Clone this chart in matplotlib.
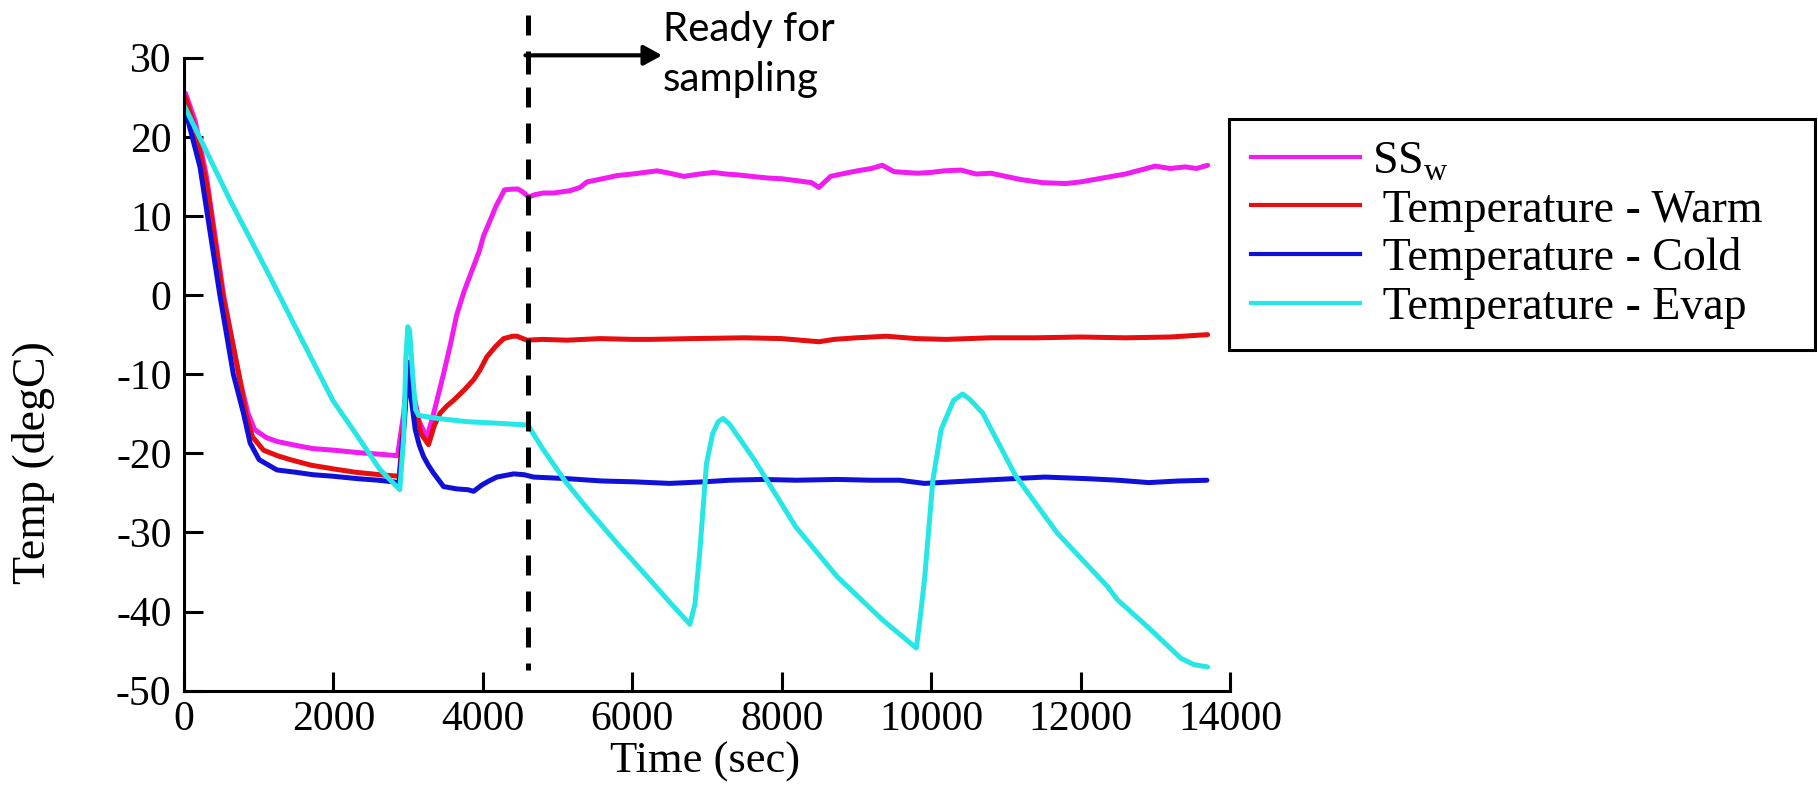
import matplotlib.pyplot as plt
from matplotlib.lines import Line2D

# values
t_ssw = [0, 20, 150, 300, 530, 730, 855, 945, 1100, 1244, 1500, 1722, 2000, 2320, 2600, 2858,
         2940, 3000, 3060, 3150, 3250, 3330, 3465, 3560, 3650, 3750, 3850, 3950, 4010, 4100,
         4174, 4290, 4400, 4470, 4540, 4613, 4700, 4814, 4950, 5171, 5300, 5394, 5600, 5795,
         6000, 6331, 6500, 6689, 6900, 7090, 7250, 7403, 7600, 7805, 8000, 8251, 8400, 8497,
         8654, 8800, 9011, 9200, 9346, 9503, 9650, 9816, 10000, 10173, 10400, 10600, 10800,
         11000, 11200, 11500, 11800, 12000, 12300, 12600, 12800, 13000, 13200, 13400, 13550, 13700]
ssw = [24.5, 25.5, 22, 15, 0, -10, -14.9, -17.0, -18.0, -18.5, -19.0, -19.4, -19.6, -19.9, -20.1, -20.3,
       -15, -8.5, -12, -16, -18.0, -15.4, -10.3, -6.5, -2.5, 0.5, 3.0, 5.5, 7.5, 9.5,
       11.2, 13.3, 13.4, 13.4, 13.0, 12.4, 12.7, 12.9, 12.9, 13.2, 13.6, 14.3, 14.7, 15.1,
       15.3, 15.7, 15.4, 15.0, 15.3, 15.5, 15.3, 15.2, 15.0, 14.8, 14.7, 14.4, 14.2, 13.6,
       15.0, 15.3, 15.7, 16.0, 16.4, 15.6, 15.5, 15.4, 15.5, 15.7, 15.8, 15.3, 15.4,
       15.0, 14.6, 14.2, 14.1, 14.3, 14.8, 15.3, 15.8, 16.3, 16.0, 16.2, 16.0, 16.4]

t_warm = [0, 20, 150, 304, 520, 735, 825, 915, 1064, 1250, 1423, 1700, 2021, 2300, 2619, 2880,
          2950, 3000, 3070, 3170, 3273, 3350, 3430, 3520, 3608, 3750, 3876, 3960, 4054, 4170,
          4278, 4400, 4456, 4590, 4800, 5126, 5572, 6000, 6242, 6800, 7500, 8000, 8500, 8700,
          9000, 9400, 9800, 10200, 10800, 11400, 12000, 12600, 13200, 13700]
warm = [24, 25, 21, 14, 0, -10, -14.9, -17.9, -19.6, -20.3, -20.8, -21.5, -22.0, -22.4, -22.7, -22.9,
        -15, -8.5, -13, -17.5, -18.9, -16.5, -14.9, -14.0, -13.3, -12.0, -10.7, -9.5, -7.8, -6.5,
        -5.5, -5.2, -5.2, -5.7, -5.6, -5.7, -5.5, -5.6, -5.6, -5.5, -5.4, -5.5, -5.9, -5.6,
        -5.4, -5.2, -5.5, -5.6, -5.4, -5.4, -5.3, -5.4, -5.3, -5.0]

t_cold = [0, 214, 480, 660, 795, 885, 1005, 1244, 1500, 1722, 2000, 2320, 2600, 2800, 2880,
          2950, 3000, 3040, 3095, 3150, 3206, 3270, 3340, 3474, 3653, 3800, 3876, 3987, 4080,
          4188, 4300, 4411, 4550, 4679, 4900, 5126, 5600, 6019, 6500, 6965, 7300, 7743, 8200,
          8743, 9200, 9577, 9911, 10300, 10689, 11100, 11523, 12079, 12500, 12913, 13300, 13691]
cold = [24, 16.2, 0, -10, -14.9, -18.7, -20.8, -22.1, -22.4, -22.7, -22.9, -23.2, -23.4, -23.6, -23.7,
        -16, -8.5, -13, -17, -19, -20.4, -21.5, -22.5, -24.2, -24.5, -24.6, -24.8, -24.0, -23.5,
        -23.0, -22.8, -22.6, -22.7, -23.0, -23.1, -23.2, -23.5, -23.6, -23.8, -23.6, -23.4, -23.3, -23.4,
        -23.3, -23.4, -23.4, -23.8, -23.6, -23.4, -23.2, -23.0, -23.2, -23.4, -23.7, -23.5, -23.4]

t_evap = [0, 616, 1124, 1500, 1991, 2320, 2619, 2888, 2940, 2970, 2995, 3020, 3060, 3100, 3140,
          3400, 3786, 4200, 4546, 4600, 4800, 5100, 5400, 5800, 6200, 6500, 6771, 6840, 6909,
          6993, 7076, 7150, 7215, 7300, 7632, 8188, 8743, 9355, 9801, 9850, 9911, 10023, 10134,
          10300, 10422, 10520, 10689, 11134, 11690, 12357, 12493, 12940, 13342, 13517, 13700]
evap = [24, 12.0, 2.8, -4.2, -13.3, -17.8, -22.0, -24.6, -18, -8, -4.0, -4.5, -10, -14.5, -15.2,
        -15.6, -16.0, -16.2, -16.4, -16.4, -19.4, -23.5, -27.0, -31.4, -35.6, -38.8, -41.6, -39, -31.8,
        -21.3, -17.5, -16.0, -15.6, -16.3, -20.8, -29.3, -35.6, -41.1, -44.6, -41, -36.0, -23.4, -17.0,
        -13.3, -12.5, -13.2, -14.9, -22.9, -30.1, -36.8, -38.5, -42.3, -45.9, -46.7, -47.0]

labels = [r'SS$_{\mathrm{w}}$', ' Temperature - Warm', ' Temperature - Cold', ' Temperature - Evap']
colors = ['#f01cf0', '#e60e0e', '#1010d8', '#26e6e6']
x_ticks = list(range(0, 14001, 2000))
y_ticks = list(range(-50, 31, 10))
ready_time = 4600

plt.rcParams['font.family'] = 'Liberation Serif'
plt.rcParams['mathtext.fontset'] = 'custom'
plt.rcParams['mathtext.rm'] = 'Liberation Serif'
plt.rcParams['axes.unicode_minus'] = False

W, H = 1818, 787
fig = plt.figure(figsize=(W / 100, H / 100), dpi=100)
ax = fig.add_axes([184 / W, 1 - 690.7 / H, (1230 - 184) / W, (690.7 - 57.7) / H])

series = [(t_ssw, ssw), (t_warm, warm), (t_cold, cold), (t_evap, evap)]
for (t, y), c in zip(series, colors):
    ax.plot(t, y, color=c, lw=3.6, solid_joinstyle='round', solid_capstyle='round')

ax.set_xlim(0, 14000)
ax.set_ylim(-50, 30)
ax.set_xticks(x_ticks)
ax.set_yticks(y_ticks)
for s in ['top', 'right']:
    ax.spines[s].set_visible(False)
for s in ['left', 'bottom']:
    ax.spines[s].set_linewidth(2.2)
ax.tick_params(direction='in', length=14, width=2.2, labelsize=30)
ax.tick_params(axis='y', pad=9)
ax.tick_params(axis='x', pad=7)

fig.text(34 / W, 1 - 463 / H, 'Temp (degC)', rotation=90, ha='center', va='center', fontsize=33)
fig.text(705 / W, 1 - 762 / H, 'Time (sec)', ha='center', va='center', fontsize=32)

# dashed marker + arrow
ax.plot([ready_time, ready_time], [35.4, -47.4], color='k', lw=3.6, dashes=(4, 3.2), clip_on=False)
ax.plot([ready_time, ready_time], [28.0, 30.3], color='k', lw=3.6, solid_capstyle='butt', clip_on=False)
ax.annotate('', xy=(6400, 30.3), xytext=(ready_time - 30, 30.3), annotation_clip=False,
            arrowprops=dict(arrowstyle='-|>,head_length=0.55,head_width=0.3', lw=3, color='k',
                            shrinkA=0, shrinkB=0, mutation_scale=20))
fig.text(663 / W, 1 - 11 / H, 'Ready for\nsampling', family='Lato', fontsize=29,
         ha='left', va='top', linespacing=1.45)

handles = [Line2D([], [], color=c, lw=3) for c in colors]
leg = fig.legend(handles, labels, loc='upper left',
                 bbox_to_anchor=(1229 / W, 1 - 339 / H, (1815 - 1229) / W, (339 - 119) / H),
                 bbox_transform=fig.transFigure, mode='expand', fontsize=33,
                 fancybox=False, framealpha=1, edgecolor='k', borderpad=0.47, borderaxespad=0,
                 labelspacing=0.13, handlelength=2.38, handletextpad=0.28)
leg.get_frame().set_linewidth(2.2)

fig.savefig('out.png', dpi=100)
